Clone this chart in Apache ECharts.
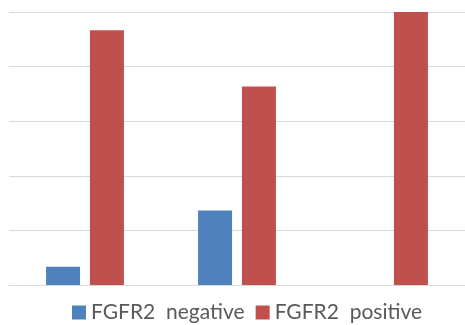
<!DOCTYPE html>
<html>
<head>
<meta charset="utf-8">
<script src="https://cdn.jsdelivr.net/npm/echarts@6/dist/echarts.min.js"></script>
<style>
  html, body { margin: 0; padding: 0; background: #ffffff; }
  #chart { width: 465px; height: 325px; }
</style>
</head>
<body>
<div id="chart"></div>
<script>
// Share of cases (%) per group, split by FGFR2 status
const categories = ['Group 1', 'Group 2', 'Group 3'];
const seriesNames = ['FGFR2  negative', 'FGFR2  positive'];
const negativeValues = [6.7, 27.3, 0];
const positiveValues = [93.3, 72.7, 100];

const chart = echarts.init(document.getElementById('chart'), null, { renderer: 'canvas' });

chart.setOption({
  animation: false,
  backgroundColor: '#ffffff',
  grid: { left: 9, right: -4, top: 12, bottom: 40 },
  legend: {
    data: seriesNames,
    left: 67,
    top: 297,
    itemWidth: 14,
    itemHeight: 14,
    itemGap: 11,
    icon: 'rect',
    textStyle: { fontFamily: 'Lato', fontSize: 21, color: '#595959' }
  },
  xAxis: {
    type: 'category',
    data: categories,
    axisLine: { show: true, lineStyle: { color: '#d9d9d9', width: 1 } },
    axisTick: { show: false },
    axisLabel: { show: false }
  },
  yAxis: {
    type: 'value',
    min: 0,
    max: 100,
    interval: 20,
    axisLine: { show: false },
    axisTick: { show: false },
    axisLabel: { show: false },
    splitLine: { lineStyle: { color: '#d9d9d9', width: 1 } }
  },
  series: [
    {
      name: seriesNames[0],
      type: 'bar',
      data: negativeValues,
      barWidth: 34,
      barGap: '29%',
      itemStyle: { color: '#4f81bd' }
    },
    {
      name: seriesNames[1],
      type: 'bar',
      data: positiveValues,
      barWidth: 34,
      itemStyle: { color: '#c0504d' }
    }
  ]
});
</script>
</body>
</html>
